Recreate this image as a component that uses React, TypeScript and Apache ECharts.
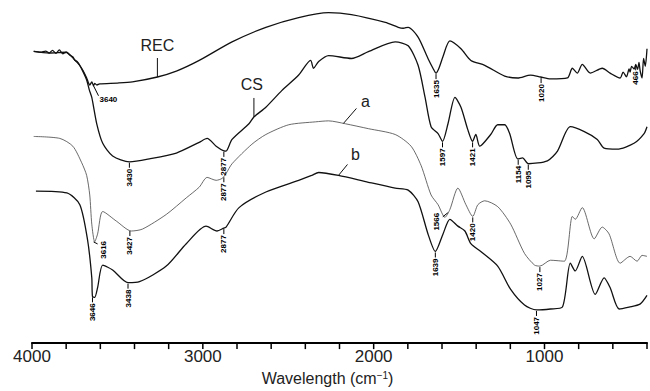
import React, { useEffect, useRef } from 'react';
import * as echarts from 'echarts';

// Wavenumber (cm-1) vs. relative transmittance (a.u., stacked offsets)
const seriesNames = ['REC', 'CS', 'a', 'b'];

const recData: [number, number][] = [
  [3990, 74.8], [3950, 74.6], [3920, 74.9], [3900, 74.4], [3880, 75.1], [3860, 74.3], [3840, 75.2],
  [3820, 74.2], [3800, 74.6], [3780, 73.9], [3760, 73.4], [3750, 72.6], [3735, 72.2], [3720, 71.2],
  [3700, 69.8], [3680, 68.0], [3670, 66.8], [3662, 66.2], [3650, 67.0], [3640, 66.0], [3633, 66.6],
  [3620, 66.2], [3604, 66.5], [3500, 66.7], [3412, 67.0], [3266, 68.25], [3155, 69.75], [3021, 72.5],
  [2829, 77.25], [2631, 81], [2439, 83.5], [2264, 84.75], [2130, 84.25], [1932, 82.25], [1856, 81],
  [1827, 80.75], [1798, 81], [1740, 78.5], [1682, 73], [1653, 70.5], [1635, 69.25], [1618, 70.5],
  [1594, 73.5], [1554, 77.5], [1489, 75.5], [1431, 72.5], [1350, 71.25], [1233, 68.5], [1157, 68],
  [1082, 68.75], [1023, 68.25], [965, 67.75], [866, 68], [837, 70.5], [808, 69.25], [779, 71.5],
  [732, 69.25], [662, 70.5], [616, 69.25], [557, 68], [540, 69.5], [520, 68.3], [505, 70.3],
  [499, 69.5], [490, 71], [475, 70.3], [466, 71.5], [455, 70.2], [447, 72], [440, 69.8], [429, 68],
  [420, 73], [410, 71], [400, 75.5],
];

const csData: [number, number][] = [
  [3990, 74.8], [3900, 74.4], [3800, 74.6], [3750, 72.6], [3720, 71.2], [3700, 69.5], [3680, 67.5],
  [3665, 65], [3650, 63], [3621, 56.25], [3586, 51.25], [3528, 48], [3429, 46.5], [3313, 47.25],
  [3155, 48.75], [3021, 51.5], [2975, 52.5], [2922, 50.5], [2877, 49.3], [2864, 49.25], [2829, 52.25],
  [2730, 56.25], [2701, 58], [2631, 60.5], [2538, 64.75], [2439, 68.75], [2369, 72.5], [2352, 70.5],
  [2322, 72.25], [2264, 73.75], [2130, 73], [2031, 74.75], [1874, 77.25], [1798, 76.25], [1740, 71.25],
  [1699, 63], [1664, 55.5], [1623, 53.75], [1597, 51.75], [1565, 56.25], [1524, 63], [1489, 60.5],
  [1449, 54.75], [1421, 51.75], [1402, 53.5], [1379, 50.5], [1315, 53.5], [1274, 56], [1233, 56],
  [1204, 53.75], [1157, 47.25], [1128, 47.5], [1095, 46], [983, 46.75], [924, 49.25], [849, 55.5],
  [767, 54.25], [691, 52.25], [651, 50], [575, 49.75], [476, 51.25], [417, 53.75], [400, 55.5],
];

const aData: [number, number][] = [
  [3990, 53], [3837, 52.5], [3761, 50.5], [3709, 46.25], [3680, 43], [3662, 38], [3650, 30.5],
  [3633, 26], [3616, 28], [3586, 33.75], [3505, 31.25], [3418, 28.75], [3353, 29.25], [3214, 33],
  [3097, 37.25], [3021, 40], [2975, 42.5], [2922, 41.75], [2887, 42.25], [2864, 43.5], [2829, 46],
  [2713, 51], [2631, 53.5], [2497, 56], [2340, 56.75], [2264, 57], [2165, 56.25], [2031, 55],
  [1874, 53.5], [1781, 50.5], [1722, 45.5], [1664, 38], [1623, 35.5], [1583, 32.25], [1554, 34.25],
  [1507, 39.75], [1460, 35.5], [1420, 32.5], [1390, 35.5], [1350, 36.5], [1274, 35], [1198, 30.5],
  [1117, 23], [1058, 20], [1027, 19.75], [965, 21.25], [884, 21], [837, 32.5], [820, 31.75],
  [779, 34.75], [709, 26.75], [662, 29.75], [622, 28], [557, 20.5], [499, 22.25], [458, 21],
  [429, 22.5], [400, 22.25],
];

const bData: [number, number][] = [
  [3977, 39], [3796, 38.5], [3720, 35.5], [3674, 26.25], [3650, 16.75], [3646, 12], [3633, 11.75],
  [3616, 14.25], [3586, 20], [3528, 18.75], [3438, 15.5], [3371, 15.75], [3214, 19.75], [3097, 25.5],
  [2981, 30], [2917, 28.75], [2877, 29.5], [2864, 29.75], [2788, 34.75], [2631, 38.75], [2439, 41.75],
  [2363, 43], [2322, 43.75], [2206, 43], [2031, 41.25], [1874, 39.75], [1798, 39.25], [1740, 36.25],
  [1682, 28], [1639, 23.5], [1594, 28], [1554, 31.75], [1507, 30], [1466, 28.75], [1431, 25.5],
  [1373, 23.5], [1274, 19.75], [1198, 13.75], [1117, 9.75], [1047, 8.5], [965, 8.75], [895, 9.25],
  [849, 20.5], [820, 18.5], [779, 22.25], [703, 12.5], [651, 16.75], [616, 14.25], [563, 8.75],
  [505, 9.25], [441, 10], [400, 12.25],
];

// Peak labels (cm-1) per series
const recPeaks = [3640, 1635, 1020, 466];
const csPeaks = [3430, 2877, 1597, 1421, 1154, 1095];
const aPeaks = [3616, 3427, 2877, 1566, 1420, 1027];
const bPeaks = [3646, 3438, 2877, 1639, 1047];

// Wavenumber on each curve where its name label points
const nameAnchors = [3266, 2701, 2177, 2206];

// Axis
const xMin = 400;
const xMax = 4000;
const xTickStep = 200;
const xLabelStep = 1000;

const allData = [recData, csData, aData, bData];
const allPeaks = [recPeaks, csPeaks, aPeaks, bPeaks];

function valueAt(data: [number, number][], wn: number): number {
  for (let i = 0; i < data.length - 1; i++) {
    const [x0, y0] = data[i];
    const [x1, y1] = data[i + 1];
    if ((wn <= x0 && wn >= x1) || (wn >= x0 && wn <= x1)) {
      const t = x1 === x0 ? 0 : (wn - x0) / (x1 - x0);
      return y0 + t * (y1 - y0);
    }
  }
  return data[data.length - 1][1];
}

// styles for special peak labels (leader direction)
const peakStyle: Record<string, string> = {
  'REC-3640': 'horiz',
  'a-3616': 'right',
  'a-1566': 'left',
};
// name label offsets: [leaderDx, leaderDy, textDx, textDy]
const nameStyle: Record<string, number[]> = {
  REC: [0, -19, 0, -32],
  CS: [0, -19, -2, -32],
  a: [13, -15, 22, -22],
  b: [9, -11, 17, -21],
};

type Ann = { kind: 'peak' | 'name'; s: number; wn: number; text: string };

export default function App() {
  const ref = useRef<HTMLDivElement>(null);
  useEffect(() => {
    if (!ref.current) return;
    const chart = echarts.init(ref.current, null, { renderer: 'svg' });

    const anns: Ann[] = [];
    allPeaks.forEach((pk, s) => pk.forEach((wn) => anns.push({ kind: 'peak', s, wn, text: String(wn) })));
    nameAnchors.forEach((wn, s) => anns.push({ kind: 'name', s, wn, text: seriesNames[s] }));
    const annData = anns.map((a) => [a.wn, valueAt(allData[a.s], a.wn)]);

    const tickData: number[][] = [];
    for (let v = xMin; v <= xMax; v += xTickStep) tickData.push([v, 0]);

    const ink = '#000';
    const peakFont = {
      fontSize: 8,
      fontWeight: 'bold',
      fontFamily: 'Liberation Sans Narrow, Liberation Sans, Arial',
      fill: ink,
    };

    const renderItem = (params: any, api: any) => {
      const a = anns[params.dataIndex];
      const p = api.coord([api.value(0), api.value(1)]);
      const x = p[0];
      const y = p[1];
      if (a.kind === 'name') {
        const o = nameStyle[a.text];
        return {
          type: 'group',
          children: [
            { type: 'line', shape: { x1: x, y1: y, x2: x + o[0], y2: y + o[1] }, style: { stroke: '#111', lineWidth: 1 } },
            {
              type: 'text', x: x + o[2], y: y + o[3],
              style: { text: a.text, fontSize: 16, fontFamily: 'Liberation Sans, Arial', fill: '#222', align: 'center', verticalAlign: 'middle' },
            },
          ],
        };
      }
      const st = peakStyle[`${seriesNames[a.s]}-${a.wn}`] || 'down';
      if (st === 'horiz') {
        return {
          type: 'group',
          children: [
            { type: 'line', shape: { x1: x, y1: y, x2: x + 5, y2: y + 10 }, style: { stroke: ink, lineWidth: 1 } },
            { type: 'text', x: x + 6, y: y + 14, style: { ...peakFont, text: a.text, align: 'left', verticalAlign: 'middle' } },
          ],
        };
      }
      if (st === 'right') {
        return {
          type: 'group',
          children: [
            { type: 'line', shape: { x1: x - 4, y1: y + 8, x2: x, y2: y + 10 }, style: { stroke: ink, lineWidth: 1 } },
            { type: 'text', x: x + 6, y: y + 7, rotation: Math.PI / 2, style: { ...peakFont, text: a.text, align: 'right', verticalAlign: 'middle' } },
          ],
        };
      }
      if (st === 'left') {
        return {
          type: 'group',
          children: [
            { type: 'line', shape: { x1: x, y1: y, x2: x - 5, y2: y + 4 }, style: { stroke: ink, lineWidth: 1 } },
            { type: 'text', x: x - 11, y: y, rotation: Math.PI / 2, style: { ...peakFont, text: a.text, align: 'right', verticalAlign: 'middle' } },
          ],
        };
      }
      return {
        type: 'group',
        children: [
          { type: 'line', shape: { x1: x, y1: y + 1, x2: x, y2: y + 6 }, style: { stroke: ink, lineWidth: 1 } },
          { type: 'text', x: x, y: y + 7, rotation: Math.PI / 2, style: { ...peakFont, text: a.text, align: 'right', verticalAlign: 'middle' } },
        ],
      };
    };

    const renderTick = (params: any, api: any) => {
      const p = api.coord([api.value(0), api.value(1)]);
      return {
        type: 'line',
        shape: { x1: p[0], y1: p[1], x2: p[0], y2: p[1] + 6 },
        style: { stroke: '#000', lineWidth: 1.5 },
      };
    };

    const lineSeries = allData.map((d, i) => ({
      type: 'line',
      name: seriesNames[i],
      data: d,
      showSymbol: false,
      smooth: 0.25,
      lineStyle: { color: i === 2 ? '#444' : '#111', width: i === 2 ? 0.8 : 1.3 },
      z: 2,
    }));

    chart.setOption({
      animation: false,
      backgroundColor: '#fff',
      grid: { left: 32, right: 0, top: 0, bottom: 39 },
      xAxis: {
        type: 'value',
        min: xMin,
        max: xMax,
        interval: xTickStep,
        inverse: true,
        name: 'Wavelength (cm{sup|−1})',
        nameLocation: 'middle',
        nameGap: 20,
        nameTextStyle: {
          fontSize: 16,
          color: '#222',
          fontFamily: 'Liberation Sans, Arial',
          padding: [0, 24, 0, 0],
          rich: { sup: { fontSize: 10, verticalAlign: 'top', padding: [0, 0, 6, 0] } },
        },
        axisLine: { lineStyle: { color: '#000', width: 2.2 } },
        axisTick: { show: false },
        axisLabel: {
          fontSize: 17,
          color: '#222',
          fontFamily: 'Liberation Sans, Arial',
          margin: 5,
          formatter: (v: number) => (v % xLabelStep === 0 ? String(v) : ''),
        },
        splitLine: { show: false },
      },
      yAxis: { type: 'value', min: 0, max: 88, show: false },
      series: [
        ...lineSeries,
        {
          type: 'custom',
          coordinateSystem: 'cartesian2d',
          data: annData,
          encode: { x: 0, y: 1 },
          renderItem,
          clip: false,
          silent: true,
          z: 5,
        },
        {
          type: 'custom',
          coordinateSystem: 'cartesian2d',
          data: tickData,
          encode: { x: 0, y: 1 },
          renderItem: renderTick,
          clip: false,
          silent: true,
          z: 6,
        },
      ],
    } as any);
    return () => chart.dispose();
  }, []);
  return <div ref={ref} style={{ position: 'fixed', left: 0, top: 0, width: 650, height: 391 }} />;
}
